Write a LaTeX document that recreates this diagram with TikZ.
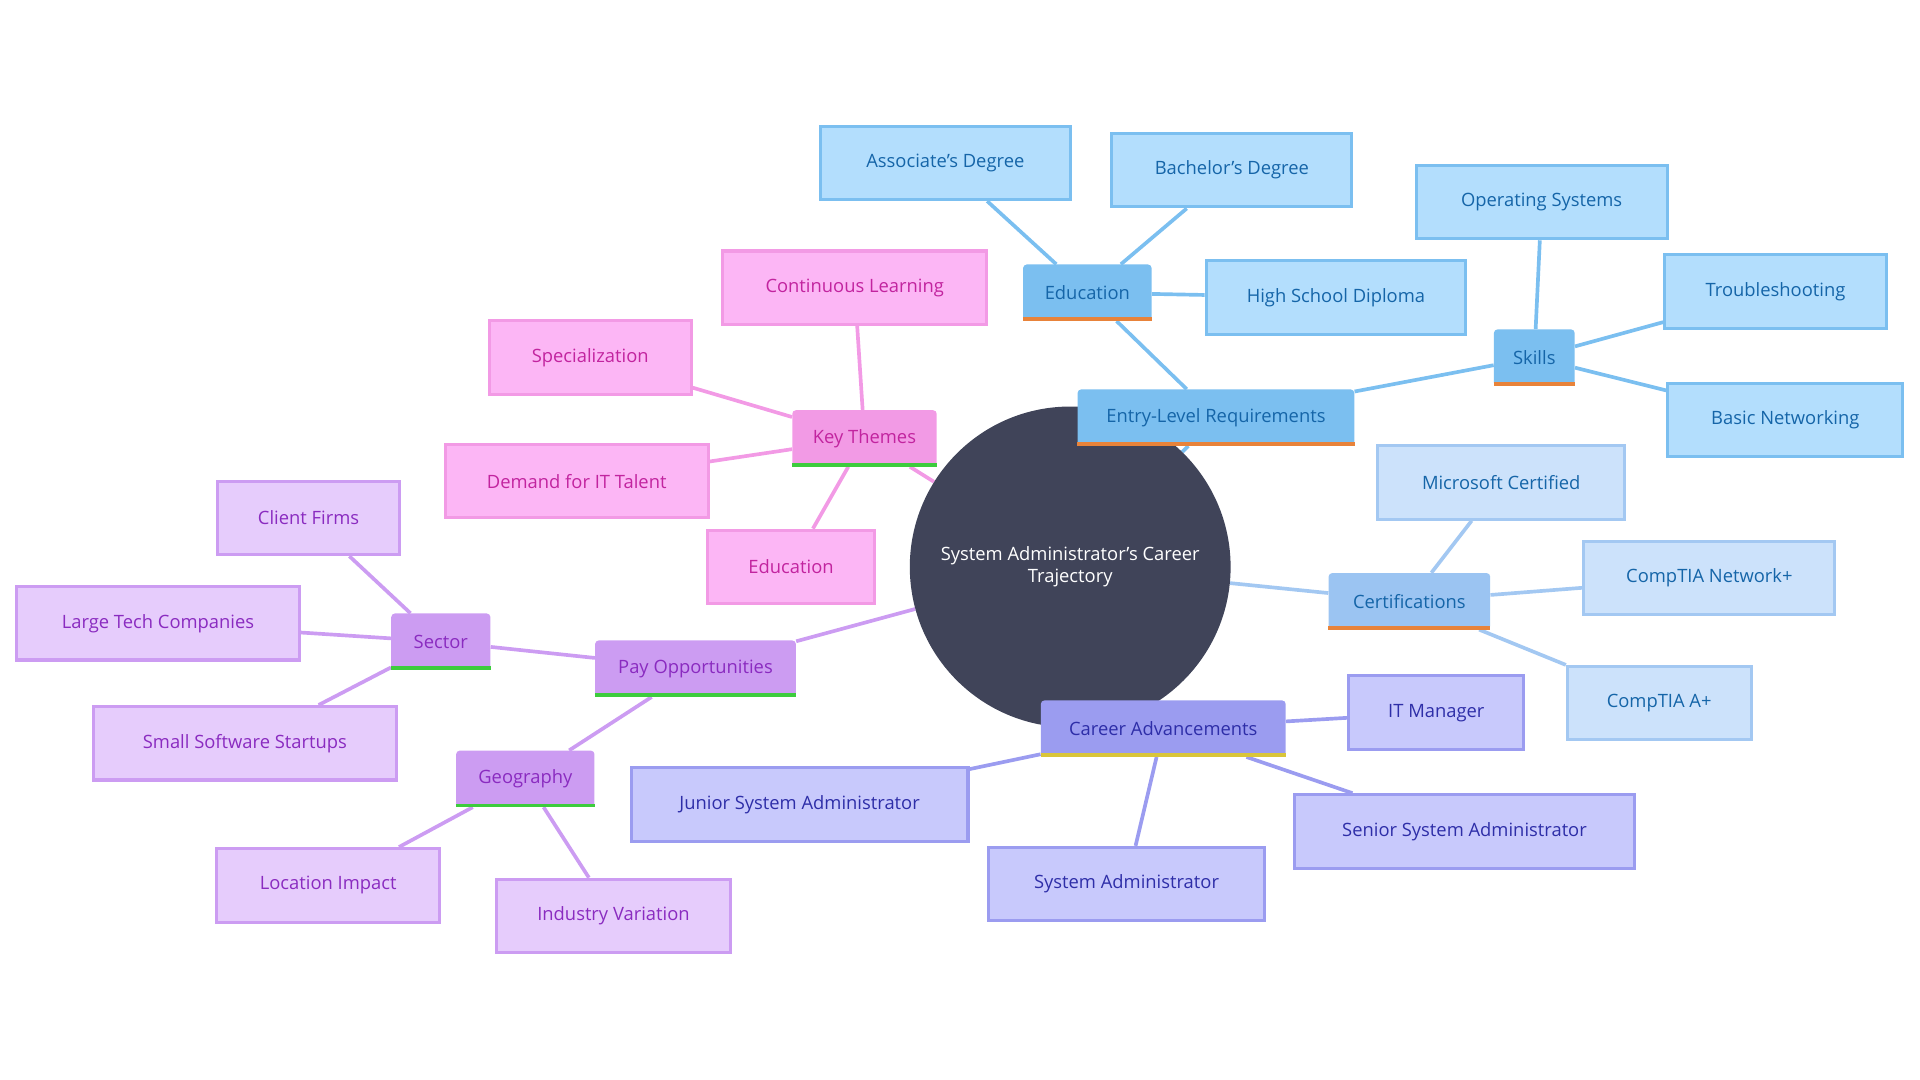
\documentclass[tikz,border=0pt]{standalone}
\usepackage{fontspec}
\setmainfont{Open Sans}
\usetikzlibrary{backgrounds}
\definecolor{bA}{HTML}{7BBFF0}\definecolor{bAt}{HTML}{1565A8}\definecolor{bL}{HTML}{B3DEFD}
\definecolor{cA}{HTML}{9BC4F2}\definecolor{cL}{HTML}{CCE2FB}\definecolor{cS}{HTML}{A3C8F2}
\definecolor{vA}{HTML}{9B9CF0}\definecolor{vt}{HTML}{2E2EA8}\definecolor{vL}{HTML}{C8C9FC}
\definecolor{pA}{HTML}{F29AE5}\definecolor{pt}{HTML}{C2249F}\definecolor{pL}{HTML}{FCB6F5}
\definecolor{uA}{HTML}{CC9CF2}\definecolor{ut}{HTML}{8A2BC0}\definecolor{uL}{HTML}{E6CCFC}
\definecolor{core}{HTML}{404459}\definecolor{orb}{HTML}{E8833A}\definecolor{grb}{HTML}{3DCC3D}\definecolor{yeb}{HTML}{D9C53A}
\tikzset{
 base/.style={rectangle,font=\fontsize{15}{18}\selectfont,inner sep=0pt},
 blu1/.style={base,fill=bA,text=bAt,rounded corners=3,minimum height=46},
 blu2/.style={base,fill=bL,draw=bA,line width=2.5,text=bAt,minimum height=60},
 cer1/.style={base,fill=cA,text=bAt,rounded corners=3,minimum height=46},
 cer2/.style={base,fill=cL,draw=cS,line width=2.5,text=bAt,minimum height=60},
 vio1/.style={base,fill=vA,text=vt,rounded corners=3,minimum height=46},
 vio2/.style={base,fill=vL,draw=vA,line width=2.5,text=vt,minimum height=60},
 pin1/.style={base,fill=pA,text=pt,rounded corners=3,minimum height=46},
 pin2/.style={base,fill=pL,draw=pA,line width=2.5,text=pt,minimum height=60},
 pur1/.style={base,fill=uA,text=ut,rounded corners=3,minimum height=46},
 pur2/.style={base,fill=uL,draw=uA,line width=2.5,text=ut,minimum height=60},
 ed/.style={line width=3},
}
\begin{document}
\begin{tikzpicture}[x=1pt,y=-1pt]
\useasboundingbox (0,0) rectangle (1568,882);
\node[circle,fill=core,minimum size=262,text=white,align=center,font=\fontsize{15}{18}\selectfont,inner sep=0] (core) at (874,463) {System Administrator's Career\\Trajectory};
% blue
\node[blu1,minimum width=226] (entry) at (993,341) {Entry-Level Requirements};
\node[blu1,minimum width=105] (edu) at (888,239) {Education};
\node[blu2,minimum width=204] (assoc) at (772,133) {Associate's Degree};
\node[blu2,minimum width=196] (bach) at (1006,139) {Bachelor's Degree};
\node[blu2,minimum width=212] (hs) at (1091,243) {High School Diploma};
\node[blu1,minimum width=66] (skills) at (1253,292) {Skills};
\node[blu2,minimum width=205] (os) at (1259,165) {Operating Systems};
\node[blu2,minimum width=181] (trou) at (1450,238) {Troubleshooting};
\node[blu2,minimum width=192] (net) at (1458,343) {Basic Networking};
% certs
\node[cer1,minimum width=132] (cert) at (1151,491) {Certifications};
\node[cer2,minimum width=202] (ms) at (1226,394) {Microsoft Certified};
\node[cer2,minimum width=205] (np) at (1396,472) {CompTIA Network+};
\node[cer2,minimum width=150] (ap) at (1355,574) {CompTIA A+};
% career
\node[vio1,minimum width=200] (car) at (950,595) {Career Advancements};
\node[vio2,minimum width=143] (itm) at (1173,582) {IT Manager};
\node[vio2,minimum width=275] (jun) at (653,657) {Junior System Administrator};
\node[vio2,minimum width=225] (sys) at (920,722) {System Administrator};
\node[vio2,minimum width=277] (sen) at (1196,679) {Senior System Administrator};
% key themes
\node[pin1,minimum width=118] (key) at (706,358) {Key Themes};
\node[pin2,minimum width=216] (cont) at (698,235) {Continuous Learning};
\node[pin2,minimum width=165] (spec) at (482,292) {Specialization};
\node[pin2,minimum width=215] (dem) at (471,393) {Demand for IT Talent};
\node[pin2,minimum width=136] (pedu) at (646,463) {Education};
% pay
\node[pur1,minimum width=164] (pay) at (568,546) {Pay Opportunities};
\node[pur1,minimum width=81] (sec) at (360,524) {Sector};
\node[pur2,minimum width=148] (cli) at (252,423) {Client Firms};
\node[pur2,minimum width=231] (lar) at (129,509) {Large Tech Companies};
\node[pur2,minimum width=247] (sma) at (200,607) {Small Software Startups};
\node[pur1,minimum width=113] (geo) at (429,636) {Geography};
\node[pur2,minimum width=182] (loc) at (268,723) {Location Impact};
\node[pur2,minimum width=191] (ind) at (501,748) {Industry Variation};
% underlines
\foreach \n/\c in {entry/orb,edu/orb,skills/orb,cert/orb,car/yeb,key/grb,pay/grb,sec/grb,geo/grb}
  \draw[\c,line width=3] ([yshift=1.5]\n.south west) -- ([yshift=1.5]\n.south east);
\begin{scope}[on background layer]
\draw[ed,bA] (core)--(entry) (entry)--(edu) (edu)--(assoc) (edu)--(bach) (edu)--(hs)
  (entry)--(skills) (skills)--(os) (skills)--(trou) (skills)--(net);
\draw[ed,cS] (core)--(cert) (cert)--(ms) (cert)--(np) (cert)--(ap);
\draw[ed,vA] (core)--(car) (car)--(itm) (car)--(jun) (car)--(sys) (car)--(sen);
\draw[ed,pA] (core)--(key) (key)--(cont) (key)--(spec) (key)--(dem) (key)--(pedu);
\draw[ed,uA] (core)--(pay) (pay)--(sec) (sec)--(cli) (sec)--(lar) (sec)--(sma) (pay)--(geo) (geo)--(loc) (geo)--(ind);
\end{scope}
\end{tikzpicture}
\end{document}
